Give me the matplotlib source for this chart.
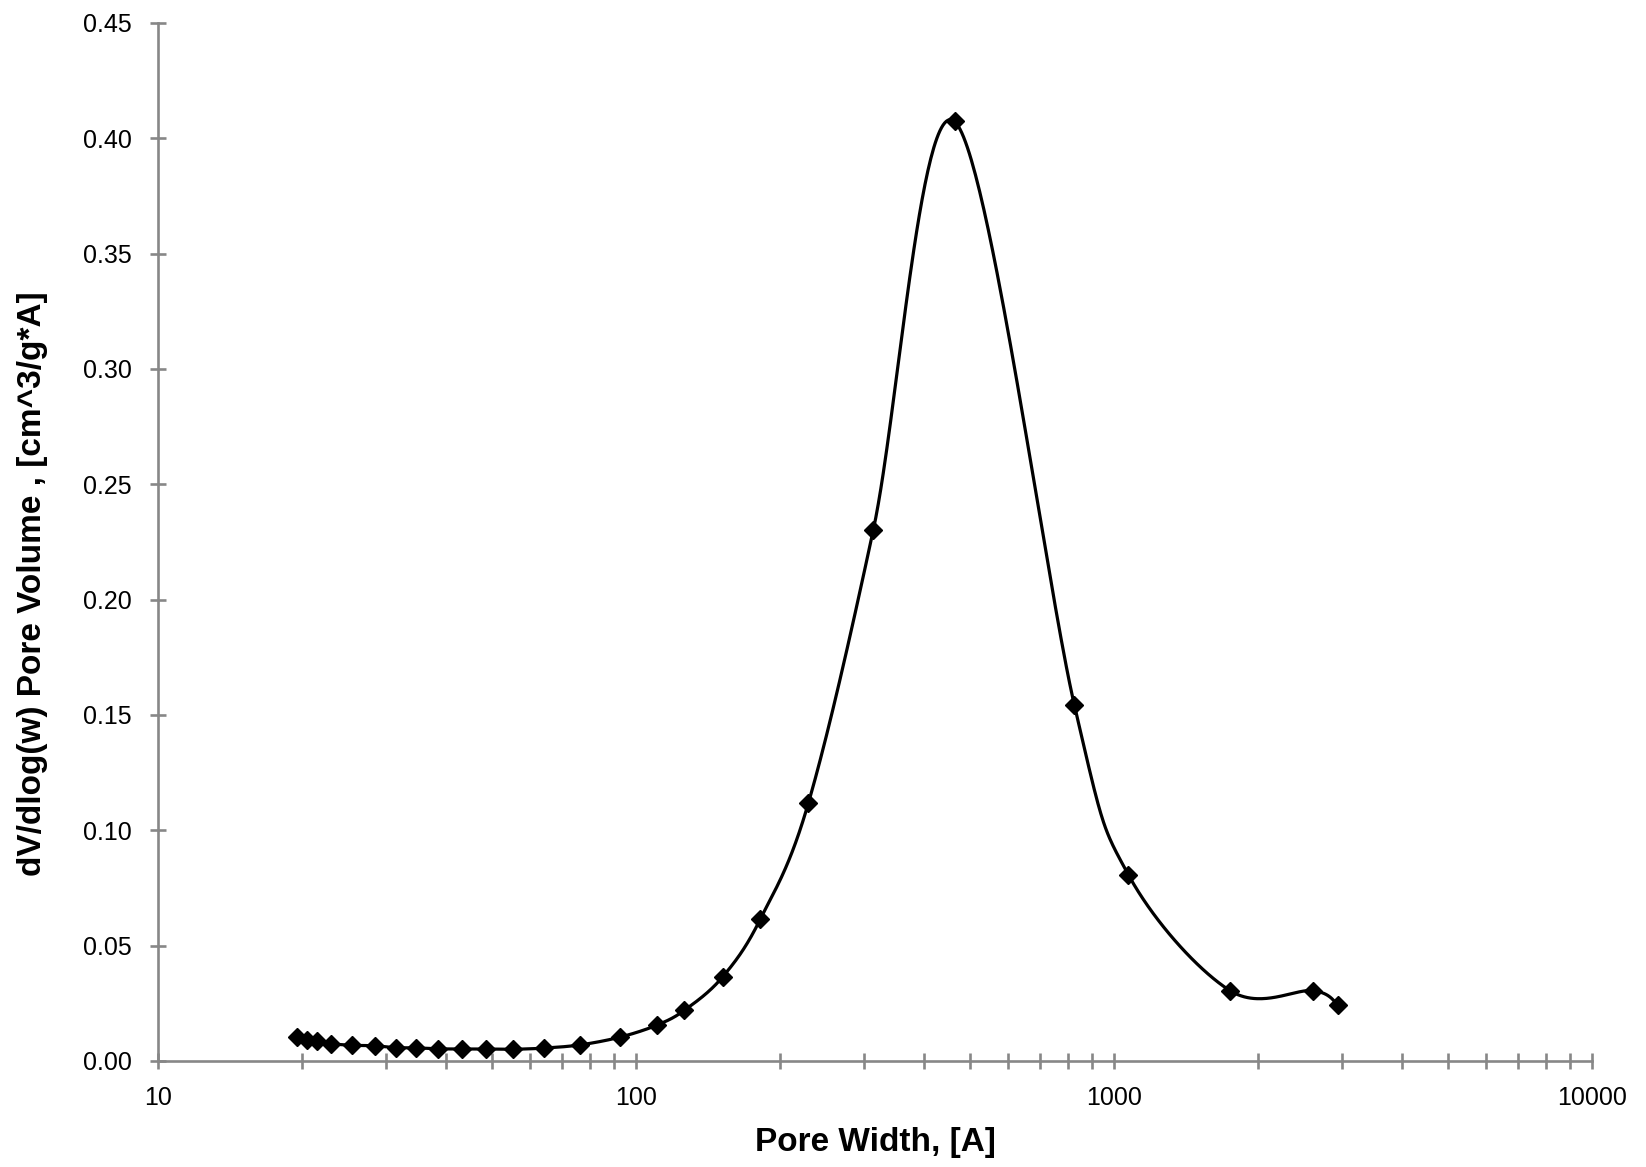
import numpy as np
import matplotlib
matplotlib.use("Agg")
import matplotlib.pyplot as plt
from matplotlib.ticker import FixedLocator, FixedFormatter, NullFormatter

plt.rcParams['font.family'] = ['Liberation Sans', 'DejaVu Sans']

# Data
pore_width = [19.5, 20.5, 21.5, 23.0, 25.5, 28.4, 31.4, 34.6, 38.5, 43.2, 48.6,
              55.3, 64.2, 76.5, 92.8, 110.4, 126.3, 151.7, 182.0, 229.4, 313.7,
              464.0, 826.0, 1072.0, 1749.0, 2612.0, 2944.0]
dv_dlogw = [0.0104, 0.0090, 0.0086, 0.0075, 0.0068, 0.0066, 0.0058, 0.0057,
            0.0053, 0.0052, 0.0052, 0.0051, 0.0056, 0.0070, 0.0104, 0.0155,
            0.0220, 0.0364, 0.0615, 0.1118, 0.2303, 0.4073, 0.1544, 0.0807,
            0.0305, 0.0305, 0.0243]

y_ticks = [0.00, 0.05, 0.10, 0.15, 0.20, 0.25, 0.30, 0.35, 0.40, 0.45]
x_major = [10, 100, 1000, 10000]
x_major_labels = ["10", "100", "1000", "10000"]

W, H = 1646, 1167
fig = plt.figure(figsize=(W / 100, H / 100), dpi=100)
left, right, top, bottom = 158, 1592, 23, 1061
ax = fig.add_axes([left / W, 1 - bottom / H, (right - left) / W, (bottom - top) / H])

# Excel-like smoothed line (Catmull-Rom Bezier in log-x space)
lx = np.log10(np.array(pore_width))
yy = np.array(dv_dlogw)
P = np.column_stack([lx, yy])
Pe = np.vstack([P[0], P, P[-1]])
t = np.linspace(0, 1, 60)
segs = []
for i in range(len(P) - 1):
    p0, p1, p2, p3 = Pe[i], Pe[i + 1], Pe[i + 2], Pe[i + 3]
    c1 = p1 + (p2 - p0) / 6.0
    c2 = p2 - (p3 - p1) / 6.0
    b = ((1 - t) ** 3)[:, None] * p1 + (3 * (1 - t) ** 2 * t)[:, None] * c1 \
        + (3 * (1 - t) * t ** 2)[:, None] * c2 + (t ** 3)[:, None] * p2
    segs.append(b if i == 0 else b[1:])
curve = np.vstack(segs)

ax.plot(10 ** curve[:, 0], curve[:, 1], color='black', lw=2.3, zorder=2,
        solid_capstyle='round')
ax.plot(pore_width, dv_dlogw, linestyle='none', marker='D', ms=9,
        color='black', mec='black', zorder=3)

ax.set_xscale('log')
ax.set_xlim(10, 10000)
ax.set_ylim(0, 0.45)

ax.xaxis.set_major_locator(FixedLocator(x_major))
ax.xaxis.set_major_formatter(FixedFormatter(x_major_labels))
minor = [m * d for d in [10, 100, 1000] for m in range(2, 10)]
ax.xaxis.set_minor_locator(FixedLocator(minor))
ax.xaxis.set_minor_formatter(NullFormatter())
ax.set_yticks(y_ticks)
ax.set_yticklabels([f"{v:.2f}" for v in y_ticks])

gray = '#878787'
for s in ['top', 'right']:
    ax.spines[s].set_visible(False)
for s in ['left', 'bottom']:
    ax.spines[s].set_color(gray)
    ax.spines[s].set_linewidth(1.9)

ax.tick_params(axis='both', which='both', direction='inout', length=11.5,
               width=1.9, color=gray, labelsize=18, labelcolor='black')
ax.tick_params(axis='x', which='major', pad=12)
ax.tick_params(axis='y', which='major', pad=13)

fig.text(875 / W, 1 - 1143 / H, "Pore Width, [A]", ha='center', va='center',
         fontsize=24, fontweight='bold')
fig.text(33 / W, 1 - 584 / H, "dV/dlog(w) Pore Volume , [cm^3/g*A]",
         ha='center', va='center', rotation=90, fontsize=24, fontweight='bold')

fig.savefig("out.png", dpi=100, facecolor='white')
